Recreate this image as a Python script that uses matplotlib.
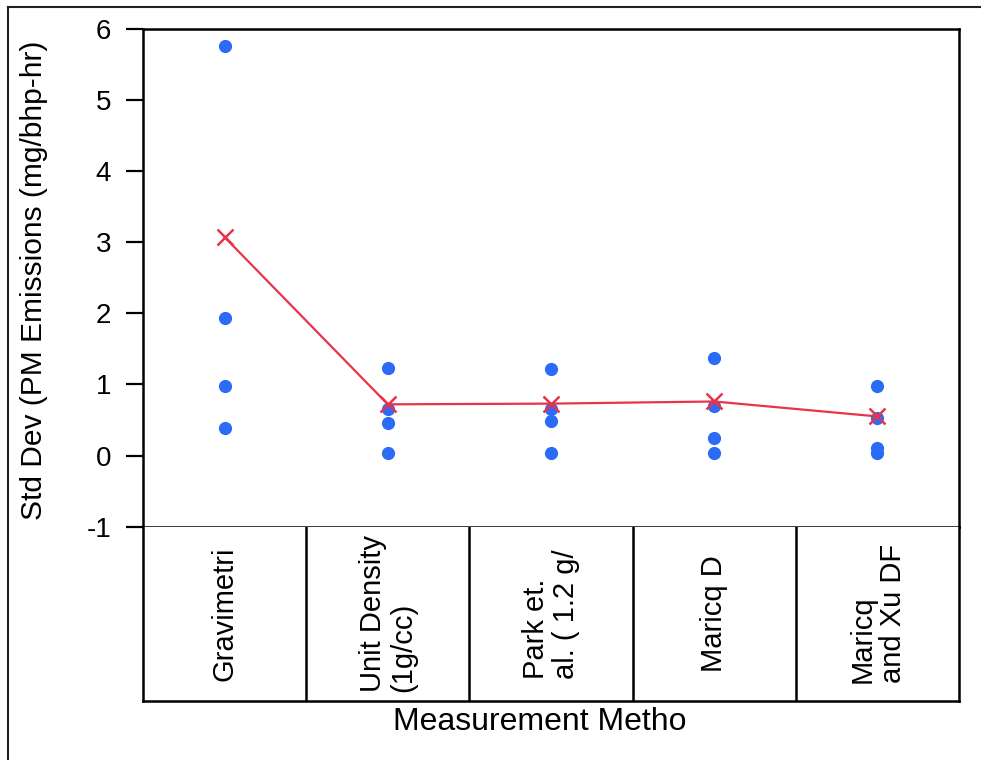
import matplotlib
matplotlib.use("Agg")
import matplotlib.pyplot as plt
from matplotlib.lines import Line2D

plt.rcParams['font.family'] = ['Liberation Sans', 'DejaVu Sans']

# Measurement methods (x-axis groups)
methods = ["Gravimetri", "Unit Density\n(1g/cc)", "Park et.\nal. ( 1.2 g/",
           "Maricq D", "Maricq\nand Xu DF"]

# Std dev values per method
gravimetri = [5.75, 1.93, 0.98, 0.39]
unit_density = [1.23, 0.66, 0.46, 0.04]
park = [1.22, 0.66, 0.48, 0.03]
maricq_d = [1.37, 0.70, 0.25, 0.03]
maricq_xu = [0.98, 0.53, 0.10, 0.03]
groups = [gravimetri, unit_density, park, maricq_d, maricq_xu]

# Group means shown by the connected red markers
group_means = [3.07, 0.72, 0.73, 0.76, 0.55]

y_ticks = [-1, 0, 1, 2, 3, 4, 5, 6]

W, H = 981, 760
fig = plt.figure(figsize=(W / 100, H / 100), dpi=100)

left, right = 143 / W, 959 / W
top, mid, bottom = 1 - 28.7 / H, 1 - 526.7 / H, 1 - 701 / H

ax = fig.add_axes([left, mid, right - left, top - mid])
ax_cat = fig.add_axes([left, bottom, right - left, mid - bottom])

blue = "#2B6BF5"
red = "#E8334A"

n = len(methods)
for i, vals in enumerate(groups):
    ax.plot([i] * len(vals), vals, 'o', color=blue, ms=9.5, mec='none', zorder=2)
ax.plot(range(n), group_means, '-', color=red, lw=1.6, zorder=3)
ax.plot(range(n), group_means, 'x', color=red, ms=11.5, mew=1.8, zorder=4)

ax.set_xlim(-0.5, n - 0.5)
ax.set_ylim(-1, 6)
ax.set_yticks(y_ticks)
ax.set_yticklabels([str(t) for t in y_ticks], fontsize=20)
ax.set_xticks([])
ax.tick_params(axis='y', length=12, width=1.6, direction='out', pad=11)
for sp in ax.spines.values():
    sp.set_linewidth(1.8)

fig.text(34 / W, 1 - 280.5 / H, "Std Dev (PM Emissions (mg/bhp-hr)",
         rotation=90, ha='center', va='center', fontsize=21.5)

# Category label box
ax_cat.set_xlim(-0.5, n - 0.5)
ax_cat.set_ylim(0, 1)
ax_cat.set_xticks([])
ax_cat.set_yticks([])
for sp in ax_cat.spines.values():
    sp.set_linewidth(1.8)
ax_cat.spines['top'].set_visible(False)
for i in range(1, n):
    ax_cat.axvline(i - 0.5, color='black', lw=1.8)
for i, lab in enumerate(methods):
    ax_cat.text(i, 0.5, lab, rotation=90, ha='center', va='center',
                multialignment='left', fontsize=21, linespacing=1.1)

fig.text(540 / W, 1 - 730 / H, "Measurement Metho", ha='center',
         va='baseline', fontsize=23)

# Outer frame (left and top edges)
fig.add_artist(Line2D([8 / W, 8 / W], [0, 1 - 7 / H], transform=fig.transFigure,
                      color='#222222', lw=1.5))
fig.add_artist(Line2D([8 / W, 1], [1 - 7 / H, 1 - 7 / H], transform=fig.transFigure,
                      color='#222222', lw=1.5))

fig.savefig("out.png", dpi=100)
